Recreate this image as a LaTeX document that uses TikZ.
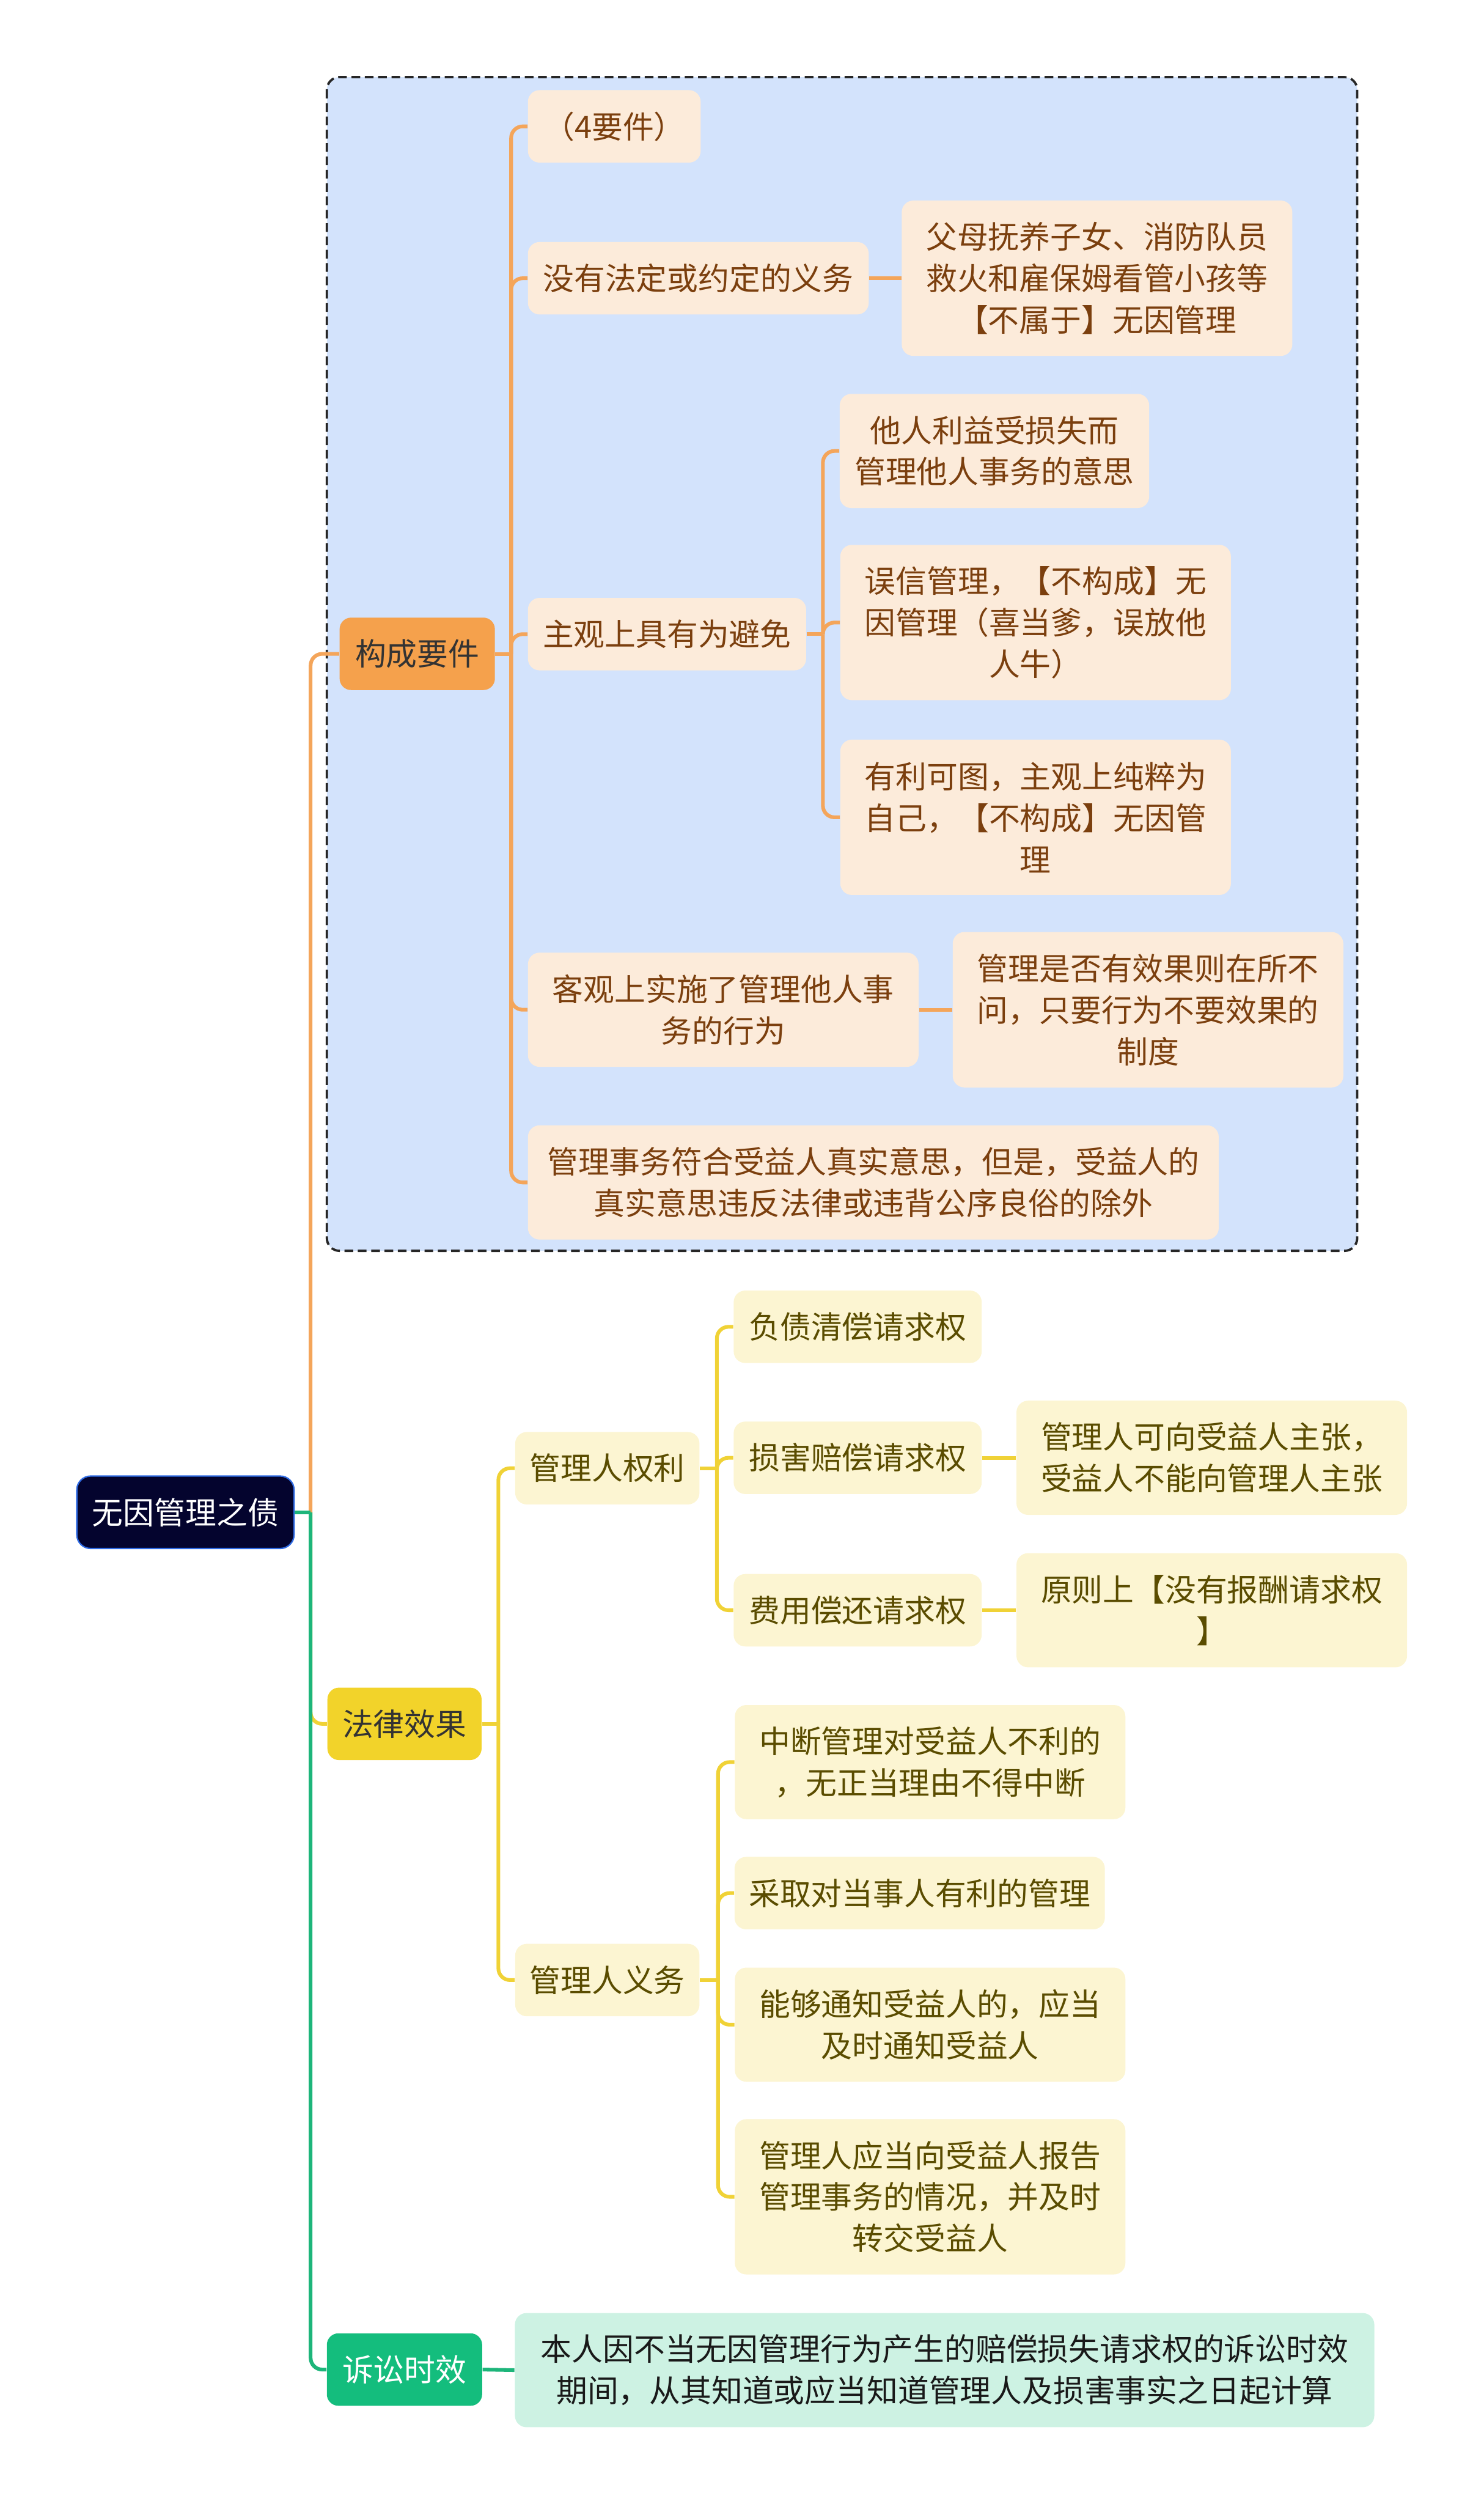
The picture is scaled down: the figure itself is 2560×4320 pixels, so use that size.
\documentclass[tikz,border=0pt]{standalone}
\usepackage{fontspec}
\setmainfont{Noto Sans CJK SC}
\usepackage{xcolor}
\definecolor{mapbg}{HTML}{D3E3FC}
\definecolor{mapframe}{HTML}{262626}
\definecolor{rootbg}{HTML}{04042E}
\definecolor{rootbd}{HTML}{2F6BE4}
\definecolor{orgfill}{HTML}{F5A14C}
\definecolor{orgline}{HTML}{F4A55A}
\definecolor{orgsub}{HTML}{FCEBDA}
\definecolor{orgtext}{HTML}{7B3F0E}
\definecolor{ylwfill}{HTML}{F2D32A}
\definecolor{ylwline}{HTML}{F0D236}
\definecolor{ylwsub}{HTML}{FCF5D2}
\definecolor{ylwtext}{HTML}{5A4C00}
\definecolor{grnfill}{HTML}{14BD7D}
\definecolor{grnline}{HTML}{1DB57A}
\definecolor{grnsub}{HTML}{CDF2E3}
\usepackage{tikz}
\usetikzlibrary{backgrounds}
\newcommand{\mapfont}{\fontsize{13.4pt}{17.9pt}\selectfont}

\begin{document}
\begin{tikzpicture}[x=0.25pt,y=-0.25pt,
  every node/.style={font=\mapfont,align=center,inner sep=0pt,rounded corners=5pt},
  one/.style={minimum height=31.25pt},
  two/.style={minimum height=49.25pt},
  three/.style={minimum height=67pt},
  wide/.style={minimum width=168.5pt},
  rootbox/.style={fill=rootbg,draw=rootbd,line width=0.6pt,text=white,rounded corners=6pt},
  orgtop/.style={fill=orgfill,text=black!80,one},
  orgbox/.style={fill=orgsub,text=orgtext},
  ylwtop/.style={fill=ylwfill,text=black!80,one},
  ylwbox/.style={fill=ylwsub,text=ylwtext},
  grntop/.style={fill=grnfill,text=white,one},
  grnbox/.style={fill=grnsub,text=black!90},
  oline/.style={draw=orgline,line width=1.6pt,rounded corners=5pt},
  yline/.style={draw=ylwline,line width=1.6pt,rounded corners=5pt},
  gline/.style={draw=grnline,line width=1.6pt,rounded corners=5pt},
  frame/.style={draw=mapframe,fill=mapbg,line width=1pt,dash pattern=on 3.75pt off 2pt,rounded corners=5.5pt}]
\useasboundingbox (0,0) rectangle (2560,4320);

% group frame round the first branch
\draw[frame] (564,133) rectangle (2342,2158);

\node[rootbox,minimum width=93.75pt,minimum height=31.25pt] (root) at (320,2609) {无因管理之债};

% first level
\node[orgtop,minimum width=67pt] (gouc) at (720,1128) {构成要件};
\node[ylwtop,minimum width=66.5pt] (falv) at (698,2974) {法律效果};
\node[grntop,minimum width=67pt] (susong) at (698,4088) {诉讼时效};

% 构成要件
\node[orgbox,one,minimum width=74.5pt] (yaojian) at (1060,218) {（4要件）};
\node[orgbox,one,minimum width=147pt] (meiyou) at (1205,480) {没有法定或约定的义务};
\node[orgbox,one,minimum width=120pt] (zhuguan) at (1151,1094) {主观上具有为避免};
\node[orgbox,two,wide] (keguan) at (1248,1742) {客观上实施了管理他人事\\务的行为};
\node[orgbox,two,minimum width=298pt] (guanli) at (1507,2040) {管理事务符合受益人真实意思，但是，受益人的\\真实意思违反法律或违背公序良俗的除外};
\node[orgbox,three,wide] (fumu) at (1893,480) {父母抚养子女、消防队员\\救火和雇保姆看管小孩等\\【不属于】无因管理};
\node[orgbox,two,minimum width=133.5pt] (taren) at (1716,778) {他人利益受损失而\\管理他人事务的意思};
\node[orgbox,three,wide] (wuxin) at (1787,1074) {误信管理，【不构成】无\\因管理（喜当爹，误放他\\人牛）};
\node[orgbox,three,wide] (youli) at (1787,1410) {有利可图，主观上纯粹为\\自己，【不构成】无因管\\理};
\node[orgbox,three,wide] (xiaoguo) at (1981,1742) {管理是否有效果则在所不\\问，只要行为不要效果的\\制度};

% 法律效果
\node[ylwbox,one,minimum width=79.5pt] (quanli) at (1048,2533) {管理人权利};
\node[ylwbox,one,minimum width=79.5pt] (yiwu) at (1048,3416) {管理人义务};
\node[ylwbox,one,minimum width=107pt] (fuzhai) at (1480,2289) {负债清偿请求权};
\node[ylwbox,one,minimum width=107pt] (sunhai) at (1480,2515) {损害赔偿请求权};
\node[ylwbox,one,minimum width=107pt] (feiyong) at (1480,2778) {费用偿还请求权};
\node[ylwbox,two,wide] (zhuzhang) at (2091,2515) {管理人可向受益人主张，\\受益人不能向管理人主张};
\node[ylwbox,two,wide] (baochou) at (2091,2778) {原则上【没有报酬请求权\\】};
\node[ylwbox,two,wide] (zhongduan) at (1605,3040) {中断管理对受益人不利的\\，无正当理由不得中断};
\node[ylwbox,one,minimum width=159.75pt] (caiqu) at (1587,3266) {采取对当事人有利的管理};
\node[ylwbox,two,wide] (tongzhi) at (1605,3493) {能够通知受益人的，应当\\及时通知受益人};
\node[ylwbox,three,wide] (baogao) at (1605,3790) {管理人应当向受益人报告\\管理事务的情况，并及时\\转交受益人};

% 诉讼时效
\node[grnbox,two,minimum width=370.75pt] (shixiao) at (1630,4089) {本人因不当无因管理行为产生的赔偿损失请求权的诉讼时效\\期间，从其知道或应当知道管理人及损害事实之日起计算};

% connectors
\coordinate (trunk) at (536,2609);
\coordinate (gj) at (882,1128);
\coordinate (zj) at (1420,1094);
\coordinate (fj) at (860,2974);
\coordinate (qj) at (1237,2533);
\coordinate (yj) at (1239,3416);

\draw[oline] (trunk) |- (gouc.west);
\draw[yline] (trunk) |- (falv.west);
\draw[gline] (trunk) |- (susong.west);
\draw[gline] (root.east) -- (trunk);

\draw[oline] (gouc.east) -- (gj);
\foreach \c in {yaojian,meiyou,zhuguan,keguan,guanli}
  \draw[oline] (gj) |- (\c.west);
\draw[oline] (zhuguan.east) -- (zj);
\foreach \c in {taren,wuxin,youli}
  \draw[oline] (zj) |- (\c.west);
\draw[oline] (meiyou.east) -- (fumu.west);
\draw[oline] (keguan.east) -- (xiaoguo.west);

\draw[yline] (falv.east) -- (fj);
\foreach \c in {quanli,yiwu}
  \draw[yline] (fj) |- (\c.west);
\draw[yline] (quanli.east) -- (qj);
\foreach \c in {fuzhai,sunhai,feiyong}
  \draw[yline] (qj) |- (\c.west);
\draw[yline] (yiwu.east) -- (yj);
\foreach \c in {zhongduan,caiqu,tongzhi,baogao}
  \draw[yline] (yj) |- (\c.west);
\draw[yline] (sunhai.east) -- (zhuzhang.west);
\draw[yline] (feiyong.east) -- (baochou.west);

\draw[gline] (susong.east) -- (shixiao.west);
\end{tikzpicture}
\end{document}
